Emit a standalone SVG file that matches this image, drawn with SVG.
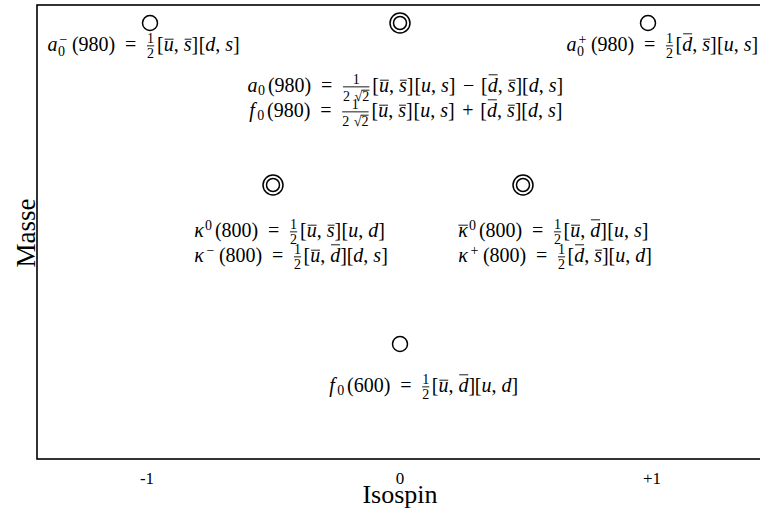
<svg xmlns="http://www.w3.org/2000/svg" width="760" height="515" viewBox="0 0 760 515">
<style>
.m{font-family:"Liberation Serif","Times New Roman",serif;font-size:20px;fill:#000;text-anchor:middle}
.i{font-style:italic}
.s{font-size:14px}
.f{font-family:"Liberation Serif","Times New Roman",serif;font-size:14px;text-anchor:middle;fill:#000}
.b{stroke:#000;stroke-width:0.9}
.c{fill:none;stroke:#000;stroke-width:1.5}
.ax{font-family:"Liberation Serif","Times New Roman",serif;fill:#000;text-anchor:middle}
</style>
<rect x="37" y="5" width="740" height="454" fill="none" stroke="#000" stroke-width="1.6"/>
<g id="axes">
<text class="ax" x="147" y="484" font-size="17">-1</text>
<text class="ax" x="400" y="484" font-size="17">0</text>
<text class="ax" x="652" y="484" font-size="17">+1</text>
<text class="ax" x="400" y="503" font-size="26">Isospin</text>
<text class="ax" font-size="27" transform="translate(35 233) rotate(-90)">Masse</text>
</g>
<g id="a0minus">
<circle class="c" cx="150" cy="23" r="7.5"/>
<text class="m"><tspan class="i" x="52.45" y="51">a</tspan><tspan class="s" x="61.5" y="56.1">0</tspan><tspan class="s" x="63.5" y="43.5">−</tspan><tspan x="93.57" y="51">(980)</tspan><tspan x="130.75" y="51">=</tspan><tspan x="177.69" y="51">[<tspan class="i">u</tspan>, <tspan class="i">s</tspan>]</tspan><tspan x="219.22" y="51">[<tspan class="i">d</tspan>, <tspan class="i">s</tspan>]</tspan></text>
<text class="f"><tspan x="150.58" y="42.9">1</tspan><tspan x="150.58" y="58.1">2</tspan></text>
<line class="b" x1="147" x2="154.2" y1="45.85" y2="45.85"/>
<line class="b" x1="164.64" x2="173.64" y1="39.2" y2="39.2"/>
<line class="b" x1="184.64" x2="191.64" y1="39.2" y2="39.2"/>
</g>
<g id="a0f0-980">
<circle class="c" cx="400" cy="23" r="10"/>
<circle class="c" cx="400" cy="23" r="6.5"/>
<text class="m"><tspan class="i" x="252.45" y="92">a</tspan><tspan class="s" x="261.5" y="95.1">0</tspan><tspan x="289.57" y="92">(980)</tspan><tspan x="326.75" y="92">=</tspan><tspan x="392.9" y="92">[<tspan class="i">u</tspan>, <tspan class="i">s</tspan>]</tspan><tspan x="434.97" y="92">[<tspan class="i">u</tspan>, <tspan class="i">s</tspan>]</tspan><tspan x="468.59" y="92">−</tspan><tspan x="501.67" y="92">[<tspan class="i">d</tspan>, <tspan class="i">s</tspan>]</tspan><tspan x="542.66" y="92">[<tspan class="i">d</tspan>, <tspan class="i">s</tspan>]</tspan></text>
<text class="f"><tspan x="356.18" y="83.9">1</tspan><tspan x="346.6" y="101.1">2</tspan><tspan x="358.3" y="101.1">√</tspan><tspan x="365.8" y="101.1">2</tspan></text>
<line class="b" x1="342.97" x2="369.39" y1="86.85" y2="86.85"/>
<line class="b" x1="361.5" x2="369.4" y1="90.2" y2="90.2"/>
<line class="b" x1="379.85" x2="388.85" y1="80.2" y2="80.2"/>
<line class="b" x1="399.85" x2="406.85" y1="80.2" y2="80.2"/>
<line class="b" x1="488.62" x2="497.62" y1="74.8" y2="74.8"/>
<line class="b" x1="508.62" x2="515.62" y1="80.2" y2="80.2"/>
<text class="m"><tspan class="i" x="252.05" y="117">f</tspan><tspan class="s" x="260.7" y="120.1">0</tspan><tspan x="288.76" y="117">(980)</tspan><tspan x="325.94" y="117">=</tspan><tspan x="392.09" y="117">[<tspan class="i">u</tspan>, <tspan class="i">s</tspan>]</tspan><tspan x="434.16" y="117">[<tspan class="i">u</tspan>, <tspan class="i">s</tspan>]</tspan><tspan x="467.78" y="117">+</tspan><tspan x="500.86" y="117">[<tspan class="i">d</tspan>, <tspan class="i">s</tspan>]</tspan><tspan x="541.85" y="117">[<tspan class="i">d</tspan>, <tspan class="i">s</tspan>]</tspan></text>
<text class="f"><tspan x="355.37" y="108.9">1</tspan><tspan x="345.77" y="126.1">2</tspan><tspan x="357.52" y="126.1">√</tspan><tspan x="364.98" y="126.1">2</tspan></text>
<line class="b" x1="342.16" x2="368.58" y1="111.85" y2="111.85"/>
<line class="b" x1="360.7" x2="368.6" y1="115.2" y2="115.2"/>
<line class="b" x1="379.04" x2="388.04" y1="105.2" y2="105.2"/>
<line class="b" x1="399.04" x2="406.04" y1="105.2" y2="105.2"/>
<line class="b" x1="487.81" x2="496.81" y1="99.8" y2="99.8"/>
<line class="b" x1="507.81" x2="514.81" y1="105.2" y2="105.2"/>
</g>
<g id="a0plus">
<circle class="c" cx="648" cy="23" r="7.5"/>
<text class="m"><tspan class="i" x="571.45" y="51">a</tspan><tspan class="s" x="580.5" y="56.1">0</tspan><tspan class="s" x="582.5" y="43.5">+</tspan><tspan x="612.57" y="51">(980)</tspan><tspan x="649.75" y="51">=</tspan><tspan x="696.15" y="51">[<tspan class="i">d</tspan>, <tspan class="i">s</tspan>]</tspan><tspan x="737.68" y="51">[<tspan class="i">u</tspan>, <tspan class="i">s</tspan>]</tspan></text>
<text class="f"><tspan x="669.58" y="42.9">1</tspan><tspan x="669.58" y="58.1">2</tspan></text>
<line class="b" x1="665.98" x2="673.18" y1="45.85" y2="45.85"/>
<line class="b" x1="683.1" x2="692.1" y1="33.8" y2="33.8"/>
<line class="b" x1="703.1" x2="710.1" y1="39.2" y2="39.2"/>
</g>
<g id="kappa-left">
<circle class="c" cx="273" cy="185" r="10"/>
<circle class="c" cx="273" cy="185" r="6.5"/>
<text class="m"><tspan class="i" x="198.94" y="237">κ</tspan><tspan class="s" x="208.5" y="229.5">0</tspan><tspan x="236.54" y="237">(800)</tspan><tspan x="273.72" y="237">=</tspan><tspan x="320.66" y="237">[<tspan class="i">u</tspan>, <tspan class="i">s</tspan>]</tspan><tspan x="363.25" y="237">[<tspan class="i">u</tspan>, <tspan class="i">d</tspan>]</tspan></text>
<text class="f"><tspan x="293.55" y="228.9">1</tspan><tspan x="293.55" y="244.1">2</tspan></text>
<line class="b" x1="289.95" x2="297.15" y1="231.85" y2="231.85"/>
<line class="b" x1="307.61" x2="316.61" y1="225.2" y2="225.2"/>
<line class="b" x1="327.61" x2="334.61" y1="225.2" y2="225.2"/>
<text class="m"><tspan class="i" x="198.94" y="262">κ</tspan><tspan class="s" x="210.5" y="254.5">−</tspan><tspan x="240.54" y="262">(800)</tspan><tspan x="277.72" y="262">=</tspan><tspan x="325.18" y="262">[<tspan class="i">u</tspan>, <tspan class="i">d</tspan>]</tspan><tspan x="367.24" y="262">[<tspan class="i">d</tspan>, <tspan class="i">s</tspan>]</tspan></text>
<text class="f"><tspan x="297.55" y="253.9">1</tspan><tspan x="297.55" y="269.1">2</tspan></text>
<line class="b" x1="293.95" x2="301.15" y1="256.85" y2="256.85"/>
<line class="b" x1="311.02" x2="320.02" y1="250.2" y2="250.2"/>
<line class="b" x1="331.02" x2="340.02" y1="244.8" y2="244.8"/>
</g>
<g id="kappa-right">
<circle class="c" cx="523" cy="185" r="10"/>
<circle class="c" cx="523" cy="185" r="6.5"/>
<g transform="translate(4 0)">
<text class="m"><tspan class="i" x="458.94" y="237">κ</tspan><tspan class="s" x="468.5" y="229.5">0</tspan><tspan x="496.54" y="237">(800)</tspan><tspan x="533.72" y="237">=</tspan><tspan x="581.18" y="237">[<tspan class="i">u</tspan>, <tspan class="i">d</tspan>]</tspan><tspan x="623.78" y="237">[<tspan class="i">u</tspan>, <tspan class="i">s</tspan>]</tspan></text>
<text class="f"><tspan x="553.55" y="228.9">1</tspan><tspan x="553.55" y="244.1">2</tspan></text>
<line class="b" x1="454.4" x2="463.9" y1="225.2" y2="225.2"/>
<line class="b" x1="549.95" x2="557.15" y1="231.85" y2="231.85"/>
<line class="b" x1="567.02" x2="576.02" y1="225.2" y2="225.2"/>
<line class="b" x1="587.02" x2="596.02" y1="219.8" y2="219.8"/>
<text class="m"><tspan class="i" x="458.94" y="262">κ</tspan><tspan class="s" x="470.5" y="254.5">+</tspan><tspan x="500.54" y="262">(800)</tspan><tspan x="537.72" y="262">=</tspan><tspan x="584.12" y="262">[<tspan class="i">d</tspan>, <tspan class="i">s</tspan>]</tspan><tspan x="626.17" y="262">[<tspan class="i">u</tspan>, <tspan class="i">d</tspan>]</tspan></text>
<text class="f"><tspan x="557.55" y="253.9">1</tspan><tspan x="557.55" y="269.1">2</tspan></text>
<line class="b" x1="553.95" x2="561.15" y1="256.85" y2="256.85"/>
<line class="b" x1="571.07" x2="580.07" y1="244.8" y2="244.8"/>
<line class="b" x1="591.07" x2="598.07" y1="250.2" y2="250.2"/>
</g>
</g>
<g id="f0-600">
<circle class="c" cx="400" cy="344" r="7.5"/>
<text class="m"><tspan class="i" x="332.05" y="392">f</tspan><tspan class="s" x="340.7" y="395.1">0</tspan><tspan x="368.76" y="392">(600)</tspan><tspan x="405.94" y="392">=</tspan><tspan x="453.4" y="392">[<tspan class="i">u</tspan>, <tspan class="i">d</tspan>]</tspan><tspan x="496.52" y="392">[<tspan class="i">u</tspan>, <tspan class="i">d</tspan>]</tspan></text>
<text class="f"><tspan x="425.77" y="383.9">1</tspan><tspan x="425.77" y="399.1">2</tspan></text>
<line class="b" x1="422.17" x2="429.37" y1="386.85" y2="386.85"/>
<line class="b" x1="439.24" x2="448.24" y1="380.2" y2="380.2"/>
<line class="b" x1="459.24" x2="468.24" y1="374.8" y2="374.8"/>
</g>
</svg>
